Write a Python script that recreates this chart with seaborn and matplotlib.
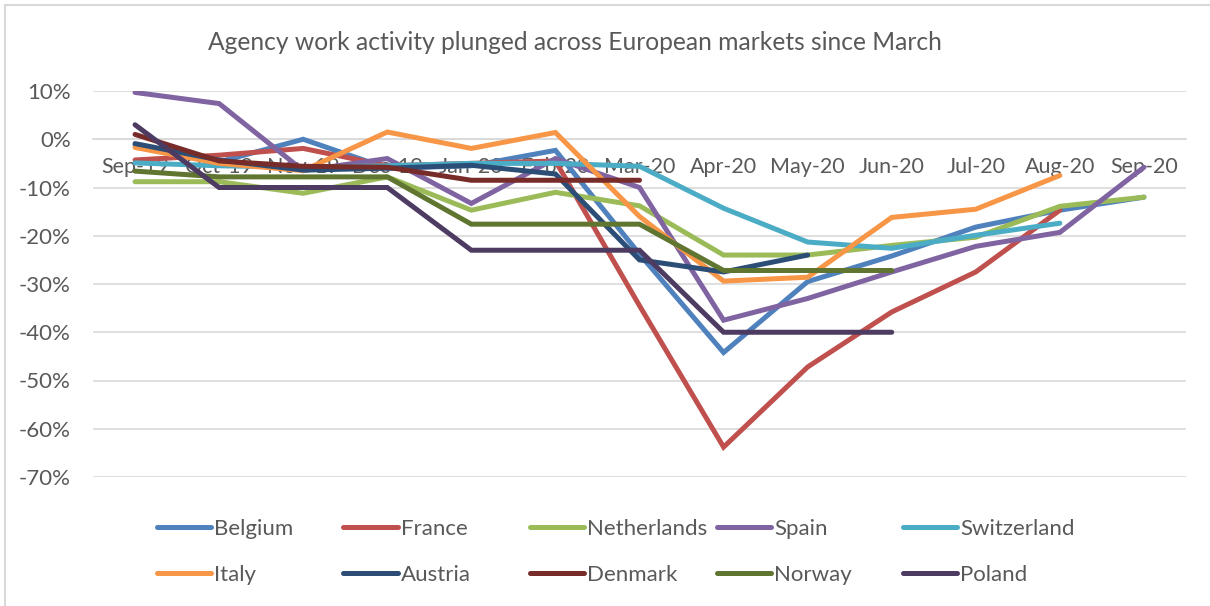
import numpy as np
import pandas as pd
import matplotlib
matplotlib.use("Agg")
import matplotlib.pyplot as plt
import matplotlib.patches as mpatches
from matplotlib.ticker import FuncFormatter, FixedLocator
import seaborn as sns

# ============================================================
# 1. Data (in %)
# ============================================================
months = ['Sep-19', 'Oct-19', 'Nov-19', 'Dec-19', 'Jan-20', 'Feb-20', 'Mar-20',
          'Apr-20', 'May-20', 'Jun-20', 'Jul-20', 'Aug-20', 'Sep-20']

nan = np.nan
belgium = [-1.2, -4.7, 0.0, -6.0, -5.5, -2.3, -23.8, -44.2, -29.5, -24.2, -18.2, -14.7, -12.0]
france = [-4.3, -3.3, -1.9, -5.5, -5.0, -4.5, -34.5, -63.8, -47.2, -35.8, -27.5, -14.7, nan]
netherlands = [-8.8, -8.8, -11.2, -7.8, -14.7, -11.0, -13.8, -24.0, -24.0, -22.0, -20.3, -13.9, -12.0]
spain = [9.7, 7.4, -6.5, -4.0, -13.3, -4.0, -10.0, -37.5, -33.0, -27.5, -22.2, -19.3, -5.8]
switzerland = [-4.9, -5.5, -5.8, -5.5, -5.0, -5.0, -5.6, -14.3, -21.3, -22.6, -19.9, -17.4, nan]
italy = [-1.7, -5.0, -6.5, 1.5, -1.9, 1.4, -16.0, -29.4, -28.6, -16.2, -14.5, -7.5, nan]
austria = [-0.9, -4.3, -6.4, -6.0, -5.4, -7.2, -25.0, -27.5, -24.0, nan, nan, nan, nan]
denmark = [1.0, -4.5, -5.6, -5.8, -8.5, -8.5, -8.5, nan, nan, nan, nan, nan, nan]
norway = [-6.6, -7.8, -7.8, -7.8, -17.6, -17.6, -17.6, -27.2, -27.2, -27.2, nan, nan, nan]
poland = [3.0, -10.0, -10.0, -10.0, -23.0, -23.0, -23.0, -40.0, -40.0, -40.0, nan, nan, nan]

countries = ['Belgium', 'France', 'Netherlands', 'Spain', 'Switzerland',
             'Italy', 'Austria', 'Denmark', 'Norway', 'Poland']
series = [belgium, france, netherlands, spain, switzerland,
          italy, austria, denmark, norway, poland]
colors = ['#4F81BD', '#C0504D', '#9BBB59', '#8064A2', '#4BACC6',
          '#F79646', '#2C4D75', '#772C2A', '#5F7530', '#4D3B62']

rows = []
for name, vals in zip(countries, series):
    for i, v in enumerate(vals):
        rows.append({'month_idx': i, 'country': name, 'value': v})
df = pd.DataFrame(rows).dropna()

# ============================================================
# 2. Plot
# ============================================================
sns.set_theme(style="white")
plt.rcParams['font.family'] = ['Lato', 'DejaVu Sans']
text_grey = '#595959'
grid_grey = '#D9D9D9'

fig = plt.figure(figsize=(12.1, 6.06), dpi=100)
ax = fig.add_axes([93 / 1210, 1 - 477 / 606, (1186 - 93) / 1210, (477 - 91) / 606])

sns.lineplot(data=df, x='month_idx', y='value', hue='country',
             hue_order=countries, palette=dict(zip(countries, colors)),
             estimator=None, sort=False, linewidth=3.6, ax=ax, legend=False)
for line in ax.lines:
    line.set_solid_capstyle('round')
    line.set_solid_joinstyle('miter')

ax.set_xlim(-0.5, len(months) - 0.5)
ax.set_ylim(-70, 10)
ax.set_yticks(np.arange(-70, 11, 10))
ax.yaxis.set_major_formatter(FuncFormatter(lambda v, p: f"{v:.0f}%"))
ax.grid(axis='y', color=grid_grey, linewidth=1.2)
ax.grid(axis='x', visible=False)
ax.set_axisbelow(True)

# category axis crossing at zero
for s in ['left', 'right', 'top']:
    ax.spines[s].set_visible(False)
ax.spines['bottom'].set_position(('data', 0))
ax.spines['bottom'].set_color(grid_grey)
ax.spines['bottom'].set_linewidth(1.2)
ax.spines['bottom'].set_zorder(0.6)

ax.set_xticks(range(len(months)))
ax.set_xticklabels(months)
ax.xaxis.set_minor_locator(FixedLocator(np.arange(-0.5, len(months), 1.0)))
ax.tick_params(axis='x', which='major', length=0, pad=13, labelsize=15.5, labelcolor=text_grey)
ax.tick_params(axis='x', which='minor', length=5, width=1.2, color=grid_grey, direction='out')
ax.tick_params(axis='y', length=0, pad=16, labelsize=16, labelcolor=text_grey)
ax.set_xlabel('')
ax.set_ylabel('')

fig.text(575 / 1210, 1 - 43 / 606,
         'Agency work activity plunged across European markets since March',
         ha='center', va='center', fontsize=17.7, color=text_grey)

# legend laid out like the Excel one: five columns, two rows
handles = ax.lines[:len(countries)]
col_x = [157, 343.5, 530, 716.5, 903]
for c in range(5):
    hs = [handles[c], handles[c + 5]]
    labs = [countries[c], countries[c + 5]]
    leg = fig.legend(hs, labs, loc='upper left',
                     bbox_to_anchor=(col_x[c] / 1210, 1 - 519 / 606),
                     frameon=False, fontsize=16, handlelength=2.45,
                     handletextpad=0.13, labelspacing=1.15,
                     borderpad=0, borderaxespad=0, labelcolor=text_grey)

# outer chart border
fig.patches.append(mpatches.Rectangle((5 / 1210, -0.05), 1.2, 1 - 5 / 606 + 0.05,
                                      transform=fig.transFigure, fill=False,
                                      edgecolor=grid_grey, linewidth=1.5))

plt.savefig("out.png", dpi=100)
